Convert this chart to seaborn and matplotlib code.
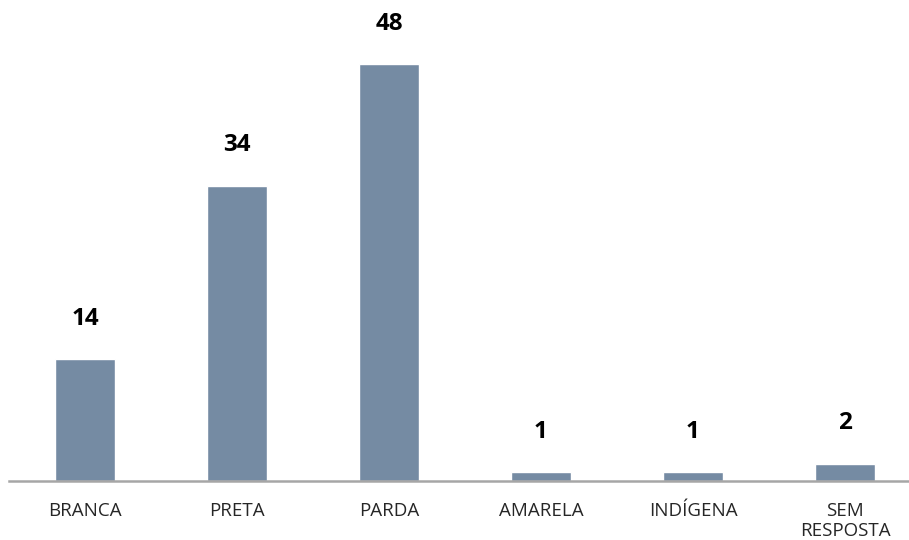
import seaborn as sns
import pandas as pd
import matplotlib.pyplot as plt

categorias = ["BRANCA", "PRETA", "PARDA", "AMARELA", "INDÍGENA", "SEM\nRESPOSTA"]
valores = [14, 34, 48, 1, 1, 2]

df = pd.DataFrame({"cat": categorias, "val": valores})

sns.set_style("white")
plt.rcParams["font.family"] = ["Open Sans", "DejaVu Sans"]

fig = plt.figure(figsize=(9.09, 5.4), dpi=100)
ax = fig.add_axes([9 / 909, 59 / 540, 912 / 909, 478 / 540])

sns.barplot(data=df, x="cat", y="val", color="#758ba3", width=0.4,
            saturation=1, ax=ax)

for i, v in enumerate(valores):
    ax.annotate(f"{v}", (i, v), xytext=(0, 29), textcoords="offset points",
                ha="center", va="center", fontsize=17.5, fontweight="bold",
                color="black", annotation_clip=False)

ax.set_xlim(-0.5, 5.5)
ax.set_ylim(0, 55)
ax.set_xlabel("")
ax.set_ylabel("")
ax.set_yticks([])
for s in ["top", "right", "left"]:
    ax.spines[s].set_visible(False)
ax.spines["bottom"].set_color("#a6a6a6")
ax.spines["bottom"].set_linewidth(1.8)
ax.tick_params(axis="x", length=0, pad=15, labelsize=13.5, colors="#262626")
for lbl in ax.get_xticklabels():
    lbl.set_linespacing(1.15)

fig.savefig("out.png", dpi=100)
